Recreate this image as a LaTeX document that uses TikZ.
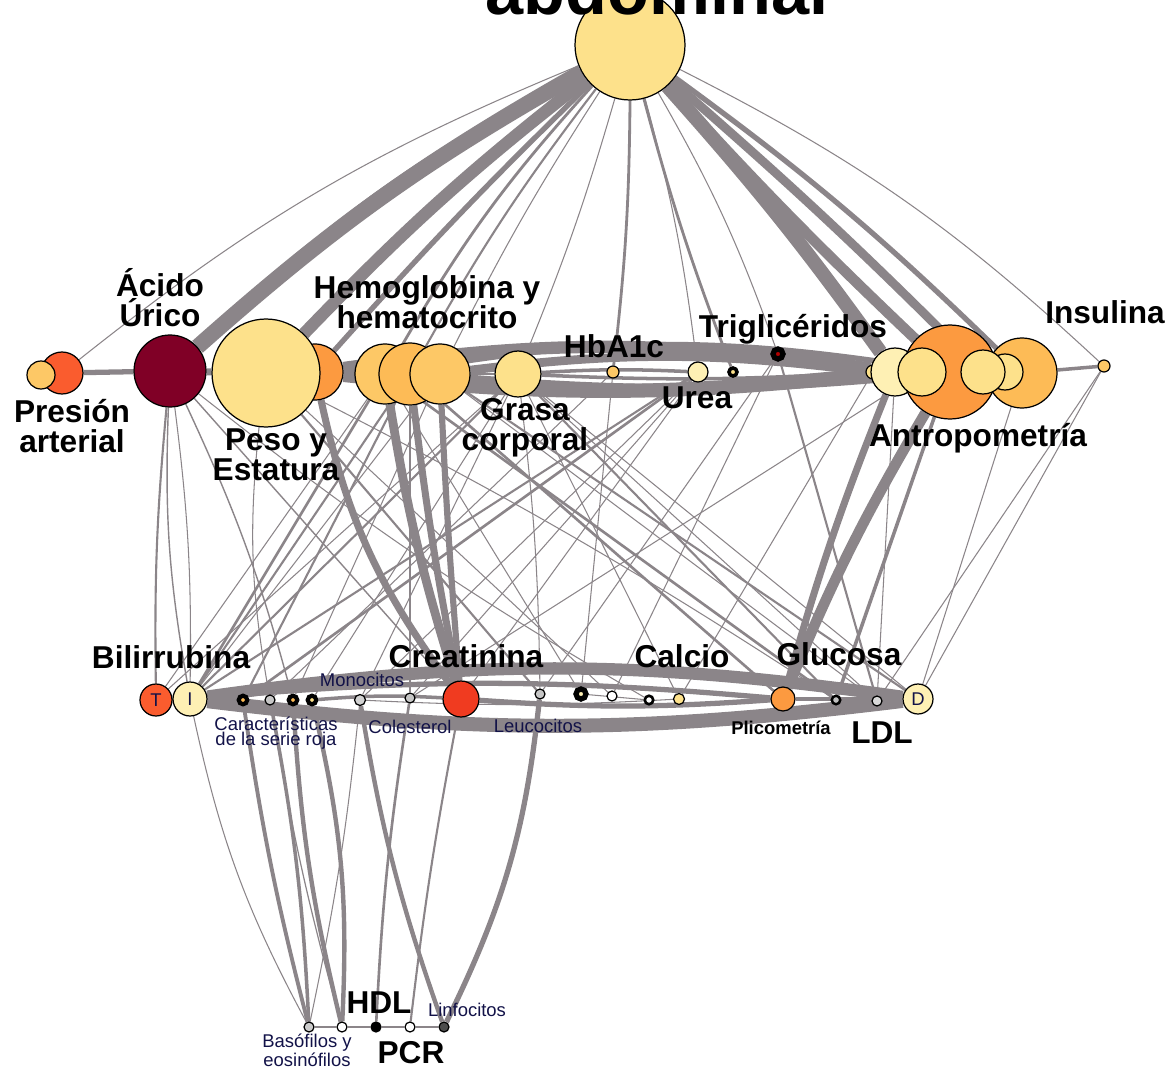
\documentclass[tikz,border=0pt]{standalone}
\usepackage{fontspec}
\setmainfont{Liberation Sans}
\usetikzlibrary{positioning}
\definecolor{edgegrey}{RGB}{139,133,137}
\definecolor{labnavy}{RGB}{18,18,72}
\definecolor{cYellow}{RGB}{253,225,139}
\definecolor{cPale}{RGB}{254,240,180}
\definecolor{cGold}{RGB}{253,200,102}
\definecolor{cAmber}{RGB}{253,187,86}
\definecolor{cOrange}{RGB}{252,154,64}
\definecolor{cRedOr}{RGB}{250,92,46}
\definecolor{cRed}{RGB}{240,59,32}
\definecolor{cDark}{RGB}{128,0,38}
\pgfdeclarelayer{edges}
\pgfsetlayers{edges,main}
\tikzset{
  conn/.style={draw=edgegrey, line width=#1},
  conn/.default=0.6pt,
  dot/.style={circle, draw=black, line width=0.7pt, inner sep=0pt, minimum size=#1},
  ring/.style={circle, draw=black, line width=2.4pt, inner sep=0pt, minimum size=#1},
  biglab/.style={font=\bfseries\fontsize{18}{17}\selectfont, align=center, inner sep=0pt},
  smalllab/.style={font=\fontsize{10.5}{8.5}\selectfont, text=labnavy, align=center, inner sep=0pt},
}
\begin{document}
\begin{tikzpicture}[x=0.02cm,y=-0.02cm]
\useasboundingbox (0,0) rectangle (1174,1068);

% top
\node [dot=2.2cm, fill=cYellow] at (630,45) (abd) {};
\node [font=\bfseries\fontsize{39}{40}\selectfont, anchor=base, inner sep=0pt] at (657,15) (abdlab) {abdominal};

% middle row
\node [dot=0.84cm, fill=cRedOr] at (62,373) (pres1) {};
\node [dot=0.56cm, fill=cGold] at (41,375) (pres2) {};
\node [dot=1.44cm, fill=cDark] at (170,371) (acido) {};
\node [dot=1.12cm, fill=cOrange] at (315,372) (peso2) {};
\node [dot=2.16cm, fill=cYellow] at (266,373) (peso1) {};
\node [dot=1.2cm, fill=cGold] at (385,374) (hemo1) {};
\node [dot=1.24cm, fill=cAmber] at (410,374) (hemo2) {};
\node [dot=1.2cm, fill=cGold] at (440,374) (hemo3) {};
\node [dot=0.92cm, fill=cYellow] at (518,374) (grasa) {};
\node [dot=0.24cm, fill=cGold] at (613,372) (hba) {};
\node [dot=0.4cm, fill=cPale] at (698,372) (urea) {};
\node [ring=0.16cm, line width=2pt, fill=cYellow] at (733,372) (urea2) {};
\node [ring=0.2cm, line width=3pt, fill=red!70!black] at (778,354) (trig) {};
\node [dot=0.28cm, fill=cYellow] at (873,372) (antro0) {};
\node [dot=0.96cm, fill=cPale] at (895,372) (antro1) {};
\node [dot=1.88cm, fill=cOrange] at (950,372) (antroB) {};
\node [dot=1.4cm, fill=cAmber] at (1022,373) (antro5) {};
\node [dot=0.72cm, fill=cYellow] at (1005,372) (antro4) {};
\node [dot=0.88cm, fill=cYellow] at (983,372) (antro3) {};
\node [dot=0.96cm, fill=cYellow] at (922,372) (antro2) {};
\node [dot=0.24cm, fill=cGold] at (1104,366) (insu) {};

\node [biglab] at (72,426) (preslab) {Presión\\arterial};
\node [biglab] at (160,298) (acidolab) {Ácido\\Úrico};
\node [biglab] at (276,455) (pesolab) {Peso y\\Estatura};
\node [biglab] at (427,302) (hemolab) {Hemoglobina y\\hematocrito};
\node [biglab] at (525,428) (grasalab) {Grasa\\corporal};
\node [biglab] at (614,346) (hbalab) {HbA1c};
\node [biglab] at (697,398) (urealab) {Urea};
\node [biglab] at (793,329) (triglab) {Triglicéridos};
\node [biglab] at (978,438) (antrolab) {Antropometría};
\node [biglab] at (1105,312) (insulab) {Insulina};

% bottom row
\node [dot=0.64cm, fill=cRedOr, smalllab, text=labnavy] at (156,700) (bilT) {T};
\node [dot=0.68cm, fill=cPale, smalllab, text=labnavy] at (190,699) (bilI) {I};
\node [ring=0.17cm, fill=cAmber] at (243,700) (roja1) {};
\node [dot=0.2cm, fill=gray!45] at (270,700) (roja2) {};
\node [ring=0.17cm, fill=cAmber] at (293,700) (roja3) {};
\node [ring=0.17cm, fill=cYellow] at (312,700) (roja4) {};
\node [dot=0.22cm, fill=gray!35] at (360,700) (mono) {};
\node [dot=0.2cm, fill=gray!45] at (410,698) (cole) {};
\node [dot=0.72cm, fill=cRed] at (461,699) (creat) {};
\node [dot=0.2cm, fill=gray!45] at (540,694) (leuco) {};
\node [ring=0.2cm, line width=3pt, fill=cPale] at (581,694) (calc1) {};
\node [dot=0.2cm, fill=white] at (612,696) (calc2) {};
\node [ring=0.17cm, line width=1.5pt, fill=white] at (649,700) (calc3) {};
\node [dot=0.22cm, fill=cYellow] at (679,699) (calc4) {};
\node [dot=0.48cm, fill=cOrange] at (783,699) (plico) {};
\node [ring=0.17cm, line width=1.4pt, fill=gray!50] at (836,700) (gluc) {};
\node [dot=0.2cm, fill=gray!30] at (877,701) (ldl) {};
\node [dot=0.6cm, fill=cPale, smalllab, text=labnavy] at (918,699) (bilD) {D};

\node [biglab] at (171,657) (bililab) {Bilirrubina};
\node [biglab] at (466,656) (creatlab) {Creatinina};
\node [biglab] at (682,656) (calclab) {Calcio};
\node [biglab] at (839,654) (gluclab) {Glucosa};
\node [biglab] at (882,733) (ldllab) {LDL};
\node [smalllab] at (362,680) (monolab) {Monocitos};
\node [smalllab] at (276,733) (rojalab) {Características\\de la serie roja};
\node [smalllab] at (410,727) (colelab) {Colesterol};
\node [smalllab] at (538,726) (leucolab) {Leucocitos};
\node [smalllab, font=\bfseries\fontsize{10.5}{8}\selectfont, text=black] at (781,728) (plicolab) {Plicometría};

% bottom group
\node [dot=0.2cm, fill=gray!40] at (309,1027) (baso) {};
\node [dot=0.2cm, fill=white] at (342,1027) (eosi) {};
\node [dot=0.2cm, fill=black] at (376,1027) (hdl) {};
\node [dot=0.2cm, fill=white] at (410,1027) (pcr) {};
\node [dot=0.2cm, fill=gray!60!black] at (444,1027) (linfo) {};

\node [biglab] at (379,1003) (hdllab) {HDL};
\node [biglab] at (411,1053) (pcrlab) {PCR};
\node [smalllab] at (467,1010) (linfolab) {Linfocitos};
\node [smalllab, font=\fontsize{10.5}{9}\selectfont] at (307,1050) (basolab) {Basófilos y\\eosinófilos};

\begin{pgfonlayer}{edges}
% from the top node
\draw [conn] (abd) to[bend right=8] (pres1);
\draw [conn=1.6pt] (abd) to[bend right=8] (acido);
\draw [conn=9pt] (abd) to[bend right=6] (acido);
\draw [conn=7pt] (abd) to[bend right=4] (peso1);
\draw [conn=3pt] (abd) to[bend right=2] (peso2);
\draw [conn=1.6pt] (abd) to[bend right=6] (hemo1);
\draw [conn=1.2pt] (abd) to[bend right=4] (hemo2);
\draw [conn] (abd) to[bend right=3] (hemo3);
\draw [conn] (abd) to[bend left=3] (grasa);
\draw [conn=1.6pt] (abd) to[bend left=3] (hba);
\draw [conn] (abd) to[bend left=4] (urea);
\draw [conn=1.6pt] (abd) to[bend right=3] (urea2);
\draw [conn] (abd) to[bend left=5] (trig);
\draw [conn=8pt] (abd) to[bend left=3] (antro1);
\draw [conn=6pt] (abd) to[bend right=2] (antroB);
\draw [conn=5pt] (abd) to[bend left=2] (antro3);
\draw [conn=3pt] (abd) to[bend left=4] (antro5);
\draw [conn] (abd) to[bend left=8] (insu);

% middle row bundle
\draw [conn=3pt] (pres1) -- (acido);
\draw [conn=4pt] (acido) -- (peso1);
\draw [conn=7pt] (peso2) to[bend left=8] (antro1);
\draw [conn=5pt] (hemo3) to[bend left=7] (antro0);
\draw [conn=3pt] (hemo1) to[bend left=9] (antroB);
\draw [conn=8pt] (peso2) to[bend right=6] (antro1);
\draw [conn=5pt] (hemo2) to[bend right=5] (antroB);
\draw [conn=2pt] (grasa) to[bend right=3] (antro0);
\draw [conn=2pt] (grasa) to[bend left=3] (urea);
\draw [conn=1.5pt] (hemo3) -- (grasa);
\draw [conn=2pt] (antro5) -- (insu);

% middle row to bottom row
\draw [conn=1.2pt] (acido) to[bend right=3] (bilT);
\draw [conn] (acido) to[bend left=4] (bilI);
\draw [conn=0.8pt] (acido) to[bend right=6] (bilI);
\draw [conn=0.8pt] (acido) -- (creat);
\draw [conn=0.8pt] (acido) to[bend left=5] (roja3);
\draw [conn] (acido) to[bend right=4] (calc3);
\draw [conn=4pt] (peso2) to[bend right=12] (creat);
\draw [conn=1.2pt] (peso1) -- (leuco);
\draw [conn] (peso1) -- (calc2);
\draw [conn] (peso1) to[bend left=3] (gluc);
\draw [conn] (peso1) to[bend right=8] (roja2);
\draw [conn=5pt] (hemo1) to[bend right=4] (creat);
\draw [conn=4pt] (hemo2) to[bend right=2] (creat);
\draw [conn=3.5pt] (hemo3) to[bend right=1] (creat);
\draw [conn=1.5pt] (hemo1) -- (bilI);
\draw [conn=1.2pt] (hemo2) -- (bilI);
\draw [conn] (hemo3) -- (bilI);
\draw [conn] (hemo1) -- (bilT);
\draw [conn=1.2pt] (hemo2) -- (roja1);
\draw [conn] (hemo3) -- (roja3);
\draw [conn=1.5pt] (hemo1) -- (gluc);
\draw [conn=1.5pt] (hemo2) -- (plico);
\draw [conn] (hemo3) -- (ldl);
\draw [conn] (hemo1) -- (calc1);
\draw [conn=1.2pt] (hemo3) -- (bilD);
\draw [conn] (hemo2) -- (cole);
\draw [conn=1.2pt] (grasa) -- (bilI);
\draw [conn] (grasa) -- (bilT);
\draw [conn] (grasa) -- (roja4);
\draw [conn] (grasa) -- (mono);
\draw [conn=1.2pt] (grasa) -- (gluc);
\draw [conn] (grasa) -- (ldl);
\draw [conn] (grasa) -- (bilD);
\draw [conn] (grasa) to[bend left=3] (leuco);
\draw [conn] (grasa) -- (calc4);
\draw [conn=1.2pt] (urea) -- (bilI);
\draw [conn=1.5pt] (urea) -- (roja1);
\draw [conn] (urea) -- (mono);
\draw [conn] (urea) -- (cole);
\draw [conn] (urea) -- (creat);
\draw [conn] (hba) -- (calc1);
\draw [conn] (hba) -- (roja2);
\draw [conn] (trig) -- (leuco);
\draw [conn=1.2pt] (trig) -- (ldl);
\draw [conn] (trig) -- (calc2);
\draw [conn=6pt] (antroB) to[bend right=4] (plico);
\draw [conn=4pt] (antro1) to[bend right=3] (plico);
\draw [conn=2pt] (antroB) -- (gluc);
\draw [conn] (antro0) -- (calc4);
\draw [conn] (antro1) -- (ldl);
\draw [conn] (antro5) -- (bilD);
\draw [conn] (insu) -- (bilD);
\draw [conn] (insu) -- (ldl);
\draw [conn] (antro2) -- (cole);

% bottom row bundle
\draw [conn=7pt] (bilI) to[bend left=8] (bilD);
\draw [conn=8pt] (bilI) to[bend right=7] (bilD);
\draw [conn=3pt] (bilI) to[bend left=5] (plico);
\draw [conn=3pt] (creat) to[bend right=4] (plico);
\draw [conn=2pt] (roja4) to[bend left=4] (creat);
\draw [conn] (mono) to[bend right=3] (calc4);
\draw [conn] (calc1) -- (calc3);
\draw [conn=2pt] (plico) -- (bilD);
\draw [conn] (bilT) -- (bilI);

% bottom row to bottom group
\draw [conn=2.2pt] (roja1) to[bend right=3] (baso);
\draw [conn=2pt] (roja2) to[bend left=4] (baso);
\draw [conn=2.5pt] (roja3) to[bend right=5] (eosi);
\draw [conn=2.5pt] (roja4) to[bend left=8] (eosi);
\draw [conn] (mono) to[bend left=3] (baso);
\draw [conn=0.7pt] (roja2) to[bend right=3] (eosi);
\draw [conn=2.5pt] (mono) to[bend right=5] (linfo);
\draw [conn=1.5pt] (cole) to[bend right=3] (hdl);
\draw [conn=1.2pt] (creat) to[bend right=2] (pcr);
\draw [conn=3pt] (leuco) to[bend left=10] (linfo);
\draw [conn] (baso) -- (eosi) -- (hdl) -- (pcr) -- (linfo);
\draw [conn] (baso) to[bend left=8] (bilI);
\end{pgfonlayer}
\end{tikzpicture}
\end{document}
